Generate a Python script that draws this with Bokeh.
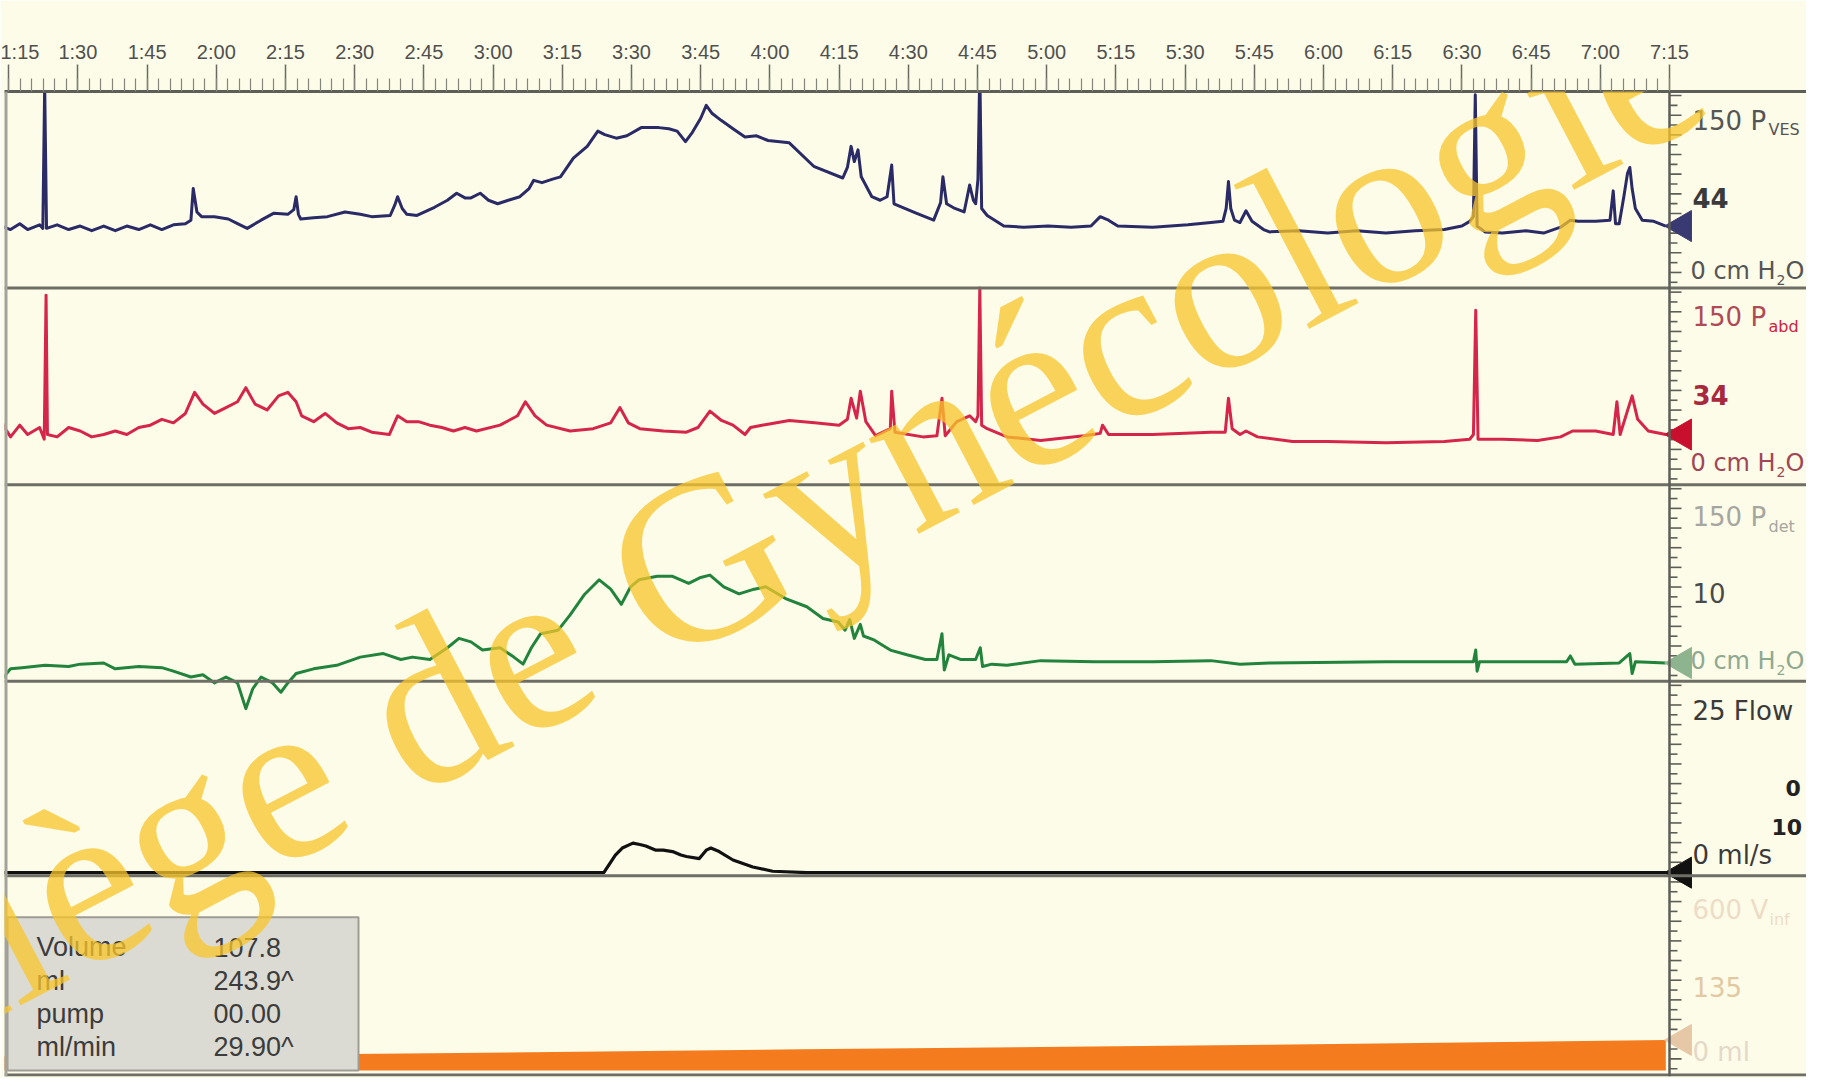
import numpy as np
from math import radians
from bokeh.plotting import figure
from bokeh.models import Range1d, LinearAxis, FixedTicker, Span, Label
from bokeh.embed import file_html
from bokeh.resources import INLINE
from bokeh.core.properties import value

# ---------------- data (time in s, pressures in cm H2O, flow ml/s, volume ml) -------------
time_ticks = [75, 90, 105, 120, 135, 150, 165, 180, 195, 210, 225, 240, 255,
              270, 285, 300, 315, 330, 345, 360, 375, 390, 405, 420, 435]
time_tick_labels = ["1:15", "1:30", "1:45", "2:00", "2:15", "2:30", "2:45", "3:00",
                    "3:15", "3:30", "3:45", "4:00", "4:15", "4:30", "4:45", "5:00",
                    "5:15", "5:30", "5:45", "6:00", "6:15", "6:30", "6:45", "7:00", "7:15"]

pves_t = [73.3, 75.4, 77.4, 79.1, 81.7, 82.4, 82.8, 83.2, 85.5, 88.0, 90.5, 93.0, 95.6,
          98.1, 100.6, 103.2, 105.7, 108.2, 110.7, 113.3, 114.5, 115.0, 115.8, 116.8,
          119.6, 122.6, 124.6, 126.7, 129.7, 132.5, 135.5, 136.8, 137.3, 137.8, 138.3,
          141.1, 144.1, 147.9, 151.2, 153.7, 157.7, 158.7, 159.3, 160.3, 161.3, 163.5,
          167.3, 170.1, 172.1, 173.9, 175.2, 177.2, 179.0, 181.0, 183.3, 185.8, 187.8,
          188.8, 190.6, 192.9, 194.6, 197.4, 200.4, 202.7, 204.2, 206.7, 209.0, 212.1,
          215.9, 218.1, 219.9, 221.7, 223.2, 225.0, 226.2, 227.5, 229.5, 232.0, 234.6,
          237.1, 239.6, 244.2, 249.5, 255.8, 256.8, 257.6, 258.3, 259.1, 259.8, 262.1,
          263.9, 265.4, 266.4, 266.9, 271.7, 275.5, 277.0, 277.5, 278.3, 280.1, 282.1,
          283.3, 284.1, 284.6, 285.1, 285.5, 285.9, 287.1, 290.7, 295.0, 300.3, 305.3,
          309.6, 311.6, 313.4, 315.4, 323.0, 330.6, 335.6, 338.2, 338.9, 339.4, 339.9,
          340.7, 341.9, 343.2, 344.5, 347.0, 348.3, 354.6, 360.9, 367.2, 373.5, 379.9,
          386.2, 390.0, 391.7, 392.5, 392.9, 393.3, 395.0, 398.8, 403.9, 407.7, 411.4,
          413.5, 415.2, 419.0, 422.1, 422.8, 423.3, 424.1, 425.1, 425.9, 426.4, 426.9,
          427.6, 429.1, 431.6, 434.2]
pves_v = [43, 40, 45, 40, 44, 41, 163, 41, 44, 40, 43, 39, 43,
          39, 43, 40, 44, 40, 44, 45, 48, 75, 55, 51,
          51, 49, 45, 41, 48, 54, 53, 57, 68, 53, 49,
          50, 51, 55, 53, 51, 52, 61, 68, 58, 53, 52,
          59, 65, 71, 67, 67, 71, 65, 62, 65, 68, 75,
          82, 80, 83, 85, 101, 111, 124, 121, 118, 120, 127,
          127, 126, 124, 115, 123, 135, 146, 139, 133, 126, 119,
          120, 116, 114, 94, 84, 93, 111, 98, 108, 85, 68,
          65, 68, 95, 62, 54, 48, 63, 85, 62, 58, 55,
          78, 65, 62, 83, 177, 58, 52, 43, 42, 43, 42,
          43, 51, 48, 43, 42, 44, 46, 47, 58, 81, 58,
          48, 46, 56, 47, 40, 38, 39, 37, 39, 37, 39,
          40, 43, 47, 51, 155, 43, 38, 37, 39, 37, 42,
          48, 47, 47, 48, 73, 45, 45, 68, 88, 93, 75,
          58, 48, 47, 43]

pabd_t = [73.3, 74.1, 75.4, 77.4, 79.1, 81.7, 82.7, 83.1, 83.4, 85.5, 88.0, 90.5, 93.0,
          95.6, 98.1, 100.6, 103.2, 105.7, 108.2, 110.7, 113.3, 115.3, 117.1, 119.6,
          122.1, 124.6, 126.4, 128.4, 131.0, 133.5, 135.5, 137.3, 138.5, 141.1, 143.6,
          146.1, 148.6, 151.2, 153.7, 157.5, 159.3, 161.3, 163.8, 166.3, 168.9, 171.4,
          173.9, 176.4, 181.5, 185.3, 187.0, 189.1, 191.6, 196.7, 201.7, 205.5, 207.5,
          209.3, 211.8, 216.9, 221.9, 224.4, 227.0, 229.5, 232.0, 234.6, 235.8, 238.3,
          244.2, 249.7, 255.0, 256.8, 257.6, 258.8, 259.6, 260.8, 262.9, 266.1, 266.4,
          267.1, 273.2, 276.2, 277.3, 278.0, 280.5, 283.3, 284.6, 285.1, 285.5, 285.9,
          287.1, 291.4, 298.7, 308.1, 311.6, 312.1, 313.4, 323.0, 335.6, 338.7, 339.4,
          340.2, 341.9, 343.2, 345.7, 353.3, 360.9, 373.5, 386.2, 391.7, 392.5, 393.0,
          393.5, 398.8, 406.4, 411.4, 414.0, 419.0, 422.8, 423.6, 424.3, 426.1, 426.9,
          428.1, 430.4, 434.2]
pabd_v = [46, 39, 31, 41, 33, 39, 29, 152, 33, 31, 39, 36, 31,
          33, 36, 33, 39, 41, 46, 43, 51, 69, 59, 51,
          56, 61, 73, 59, 54, 66, 69, 61, 49, 44, 51,
          43, 38, 39, 35, 33, 49, 44, 44, 41, 39, 36,
          39, 36, 41, 49, 61, 49, 41, 36, 38, 43, 56,
          43, 38, 36, 35, 39, 53, 45, 41, 33, 39, 41,
          45, 43, 41, 46, 64, 47, 70, 44, 32, 38, 70,
          35, 31, 32, 64, 32, 44, 49, 44, 49, 158, 41,
          38, 31, 28, 32, 34, 41, 33, 33, 35, 35, 64,
          38, 33, 36, 31, 27, 27, 26, 27, 29, 33, 139,
          29, 29, 28, 31, 36, 36, 33, 61, 33, 56, 66,
          46, 36, 33]

pdet_t = [73.3, 75.4, 77.9, 82.9, 88.0, 90.5, 95.6, 98.1, 103.2, 108.2, 110.7, 114.5,
          117.1, 119.6, 122.1, 124.6, 126.4, 127.9, 129.7, 132.2, 134.0, 135.5, 137.3,
          141.1, 146.1, 151.2, 156.2, 160.0, 162.5, 166.3, 170.1, 172.6, 175.2, 177.7,
          181.5, 184.5, 186.5, 188.3, 190.3, 194.1, 196.7, 199.7, 203.0, 205.5, 207.8,
          209.8, 211.6, 215.6, 218.9, 222.4, 225.0, 227.0, 230.0, 233.3, 236.6, 239.1,
          243.4, 248.0, 251.5, 254.8, 256.3, 257.3, 258.3, 259.6, 260.3, 262.4, 266.1,
          269.7, 273.7, 276.2, 277.3, 277.8, 278.8, 281.3, 284.6, 285.6, 286.1, 288.1,
          291.4, 298.7, 310.4, 323.0, 335.6, 341.9, 348.3, 373.5, 392.5, 393.0, 393.3,
          393.8, 412.7, 413.5, 414.5, 424.1, 426.4, 426.9, 427.6, 434.2]
pdet_v = [-9, 1, 2, 4, 3, 5, 6, 1, 3, 2, -1, -6,
          -4, -11, -6, -11, -33, -16, -6, -11, -19, -11, -3,
          1, 4, 11, 14, 9, 11, 9, 19, 27, 24, 17,
          19, 11, 5, 19, 31, 34, 47, 64, 77, 69, 56,
          71, 77, 80, 80, 74, 79, 81, 71, 65, 69, 71,
          61, 54, 44, 41, 34, 43, 27, 39, 29, 26, 17,
          13, 9, 9, 31, 0, 13, 9, 9, 19, 3, 5,
          4, 8, 7, 7, 8, 5, 6, 7, 7, 17, -1,
          7, 7, 12, 5, 6, 14, -3, 7, 6]

flow_t = [73.3, 204.0, 206.5, 208.0, 210.3, 211.8, 213.1, 215.3, 216.9, 218.9, 220.7,
          221.9, 224.7, 226.2, 227.2, 229.0, 232.0, 236.3, 240.6, 248.0, 434.9]
flow_v = [0, 0, 2.5, 3.5, 4.2, 4.0, 3.8, 3.2, 3.2, 3.0, 2.5,
          2.3, 2.0, 3.2, 3.5, 3.0, 1.8, 0.8, 0.2, 0, 0]

vinf_t = [73.3, 149.4, 247.2, 348.3, 434.2]
vinf_v = [48, 56, 72, 88, 104]

box_names = ["Volume", "ml", "pump", "ml/min"]
box_values = ["107.8", "243.9^", "00.00", "29.90^"]

watermark = "Collège de Gynécologie C"

# ---------------- layout (page pixels) ----------------
FIG_W, FIG_H = 1806, 1078
FRAME_TOP, FRAME_BOTTOM = 99, 1076
AXIS_X, T_AXIS = 1677, 435
PX_PER_S = 69.2 / 15
FRAME_H = FRAME_BOTTOM - FRAME_TOP


def tx(px):
    return T_AXIS + (px - AXIS_X) / PX_PER_S


def fy(py):
    return py - FRAME_TOP


def chan_range(zero_py, k):
    z0 = zero_py - FRAME_TOP
    return Range1d(start=(z0 - FRAME_H) / k, end=z0 / k)


BG = "#fcfce8"
p = figure(width=FIG_W, height=FIG_H, output_backend="svg", toolbar_location=None,
           title=None, x_range=Range1d(tx(12), tx(1814)), y_range=Range1d(FRAME_H, 0),
           x_axis_location=None, y_axis_location=None,
           min_border_left=4, min_border_right=0, min_border_top=91, min_border_bottom=2)
p.background_fill_color = BG
p.border_fill_color = BG
p.outline_line_color = None
p.grid.visible = False

p.extra_y_ranges = {
    "pves": chan_range(282.4, 1.162),
    "pabd": chan_range(477.6, 1.162),
    "pdet": chan_range(672.8, 1.162),
    "flow": chan_range(873.8, 6.972),
    "vinf": chan_range(1070.0, 0.2905),
}

# time axis on top
ax = LinearAxis(ticker=FixedTicker(ticks=time_ticks,
                                   minor_ticks=list(np.arange(72.5, 435.1, 2.5))),
                major_label_overrides={t: l for t, l in zip(time_ticks, time_tick_labels)})
ax.axis_line_color = "#5e5e58"
ax.axis_line_width = 3
ax.major_tick_in = 0
ax.major_tick_out = 27
ax.minor_tick_in = 0
ax.minor_tick_out = 13
ax.major_tick_line_color = "#6a6a62"
ax.major_tick_line_width = 1.5
ax.minor_tick_line_color = "#85857c"
ax.minor_tick_line_width = 1.2
ax.major_label_text_font = "Liberation Sans"
ax.major_label_text_font_size = "20px"
ax.major_label_text_color = "#505050"
ax.major_label_standoff = 2
p.add_layout(ax, "above")

# panel separators and frame borders
for py in [294, 489, 684, 877]:
    p.add_layout(Span(location=fy(py), dimension="width", line_color="#6e6e66", line_width=3))
p.add_layout(Span(location=FRAME_H - 1.5, dimension="width", line_color="#6e6e66", line_width=3))
p.add_layout(Span(location=tx(12.5), dimension="height", line_color="#a3a39b", line_width=5))
p.add_layout(Span(location=T_AXIS, dimension="height", line_color="#5e5e58", line_width=2.5))

# right-hand axis ticks
tick_y = np.arange(4, FRAME_H, 9.75)
tick_len = np.where(np.arange(len(tick_y)) % 2 == 0, 12, 8)
p.segment(x0=[T_AXIS] * len(tick_y), y0=tick_y, x1=T_AXIS + tick_len / PX_PER_S, y1=tick_y,
          line_color="#5e5e58", line_width=1.6)

# infused volume (filled)
p.varea(x=vinf_t, y1=[0] * len(vinf_t), y2=vinf_v, y_range_name="vinf", fill_color="#f47b1e")

# traces
p.line(pves_t, pves_v, y_range_name="pves", line_color="#2a2a66", line_width=3, line_join="round")
p.line(pabd_t, pabd_v, y_range_name="pabd", line_color="#d6254a", line_width=3, line_join="round")
p.line(pdet_t, pdet_v, y_range_name="pdet", line_color="#22843c", line_width=3, line_join="round")
p.line(flow_t, flow_v, y_range_name="flow", line_color="#111111", line_width=3.2, line_join="round")

# current-value arrows
for name, vals, col in [("pves", pves_v, "#3a3a72"), ("pabd", pabd_v, "#c8102e"),
                        ("pdet", pdet_v, "#8db48f"), ("flow", flow_v, "#111111"),
                        ("vinf", vinf_v, "#e6c8a6")]:
    p.scatter(x=[tx(1690)], y=[vals[-1]], y_range_name=name, marker="triangle", size=31,
              angle=np.pi / 2, fill_color=col, line_color=col)

# right-hand scale labels
F = value("DejaVu Sans")
DY = 6


def txt(s, px, py, size, color, bold=False):
    p.text(x=[tx(px)], y=[fy(py + DY)], text=[s], text_font=F, text_font_size=f"{size}px",
           text_color=color, text_baseline="middle", text_align="left",
           text_font_style="bold" if bold else "normal")


def h2o(py, color):
    txt("0 cm H", 1698, py, 24, color)
    txt("2", 1784, py + 9, 14, color)
    txt("O", 1793, py, 24, color)


txt("150 P", 1700, 122, 26, "#555555")
txt("VES", 1776, 131, 16, "#555555")
txt("44", 1700, 199, 26, "#3a3a3a", True)
h2o(271, "#555555")

txt("150 P", 1700, 317, 26, "#b04a55")
txt("abd", 1776, 326, 16, "#d02040")
txt("34", 1700, 394, 26, "#a8283e", True)
h2o(461, "#a04656")

txt("150 P", 1700, 515, 26, "#a6a6a0")
txt("det", 1776, 524, 16, "#a6a6a0")
txt("10", 1700, 590, 26, "#4a4a4a")
h2o(658, "#8fa890")

txt("25 Flow", 1700, 707, 26, "#3a3a3a")
txt("0", 1793, 784, 22, "#222222", True)
txt("10", 1779, 823, 22, "#222222", True)
txt("0 ml/s", 1700, 850, 26, "#3a3a3a")

txt("600 V", 1700, 905, 26, "#eedcc6")
txt("inf", 1777, 914, 16, "#eedcc6")
txt("135", 1700, 981, 26, "#e2c9a4")
txt("0 ml", 1700, 1046, 26, "#e6d8c8")

# information box
p.quad(left=[tx(15)], right=[tx(366)], top=[fy(918)], bottom=[fy(1070)],
       fill_color="#dbdbd4", line_color="#9e9c94", line_width=2)
rows_y = [fy(948), fy(981), fy(1014), fy(1047)]
p.text(x=[tx(44)] * 4, y=rows_y, text=box_names, text_font=value("Liberation Sans"),
       text_font_size="27px", text_color="#3c3c3c", text_baseline="middle")
p.text(x=[tx(221)] * 4, y=rows_y, text=box_values, text_font=value("Liberation Sans"),
       text_font_size="27px", text_color="#3c3c3c", text_baseline="middle")

# watermark
p.add_layout(Label(x=tx(-312), y=fy(1094), text=watermark, angle=radians(27.7),
                   text_font="Liberation Serif", text_font_size="234px",
                   text_color="#f8c629", text_alpha=0.75,
                   text_baseline="alphabetic", text_align="left"))

open("out.html", "w").write(file_html(p, INLINE))
